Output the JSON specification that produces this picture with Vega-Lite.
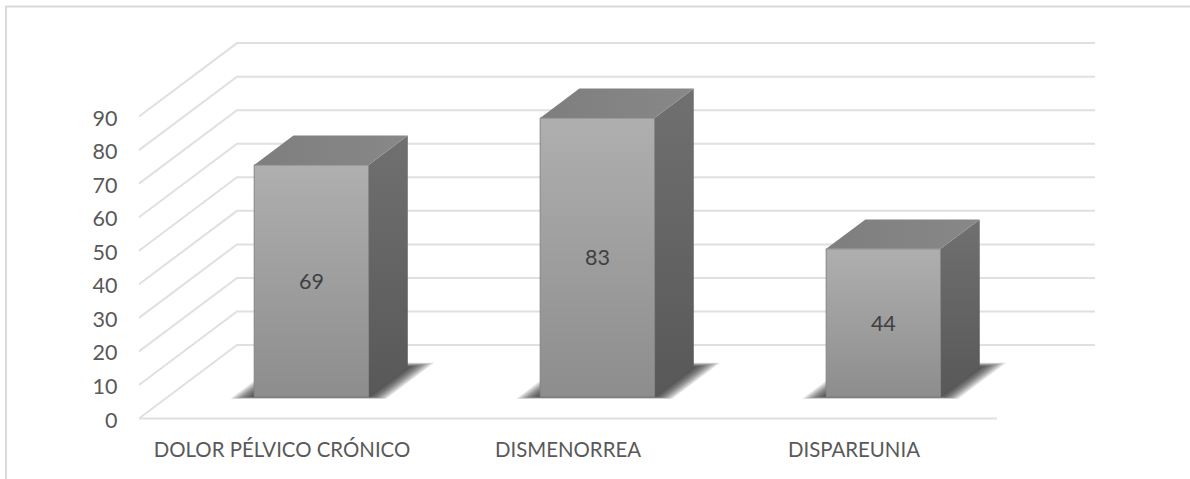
{
  "$schema": "https://vega.github.io/schema/vega-lite/v6.json",
  "width": 1190,
  "height": 479,
  "padding": 0,
  "autosize": "none",
  "background": "white",
  "config": {"view": {"stroke": null}},
  "params": [
    {"name": "sx", "value": 0.3427},
    {"name": "sy", "value": 21.9},
    {"name": "t0", "value": 0.3},
    {"name": "t1", "value": 0.7}
  ],
  "datasets": {
    "levels": [
      {"level": 0}, {"level": 10}, {"level": 20}, {"level": 30}, {"level": 40},
      {"level": 50}, {"level": 60}, {"level": 70}, {"level": 80}, {"level": 90}
    ],
    "frame": [
      {"corner": 0, "X": -0.465, "Y": -18.03},
      {"corner": 1, "X": -0.465, "Y": 122.8},
      {"corner": 2, "X": 3.675, "Y": 122.8}
    ],
    "floor": [
      {"X": 0, "Y": 0},
      {"X": 3, "Y": 0}
    ]
  },
  "data": {
    "values": [
      {"sintoma": "DOLOR PÉLVICO CRÓNICO", "casos": 69},
      {"sintoma": "DISMENORREA", "casos": 83},
      {"sintoma": "DISPAREUNIA", "casos": 44}
    ]
  },
  "transform": [
    {"window": [{"op": "row_number", "as": "n"}]},
    {"calculate": "datum.n - 1", "as": "slot"},
    {"calculate": "datum.slot + 0.3", "as": "uL"},
    {"calculate": "datum.slot + 0.7", "as": "uR"}
  ],
  "encoding": {
    "x": {
      "field": "X",
      "type": "quantitative",
      "scale": {"domain": [-0.486, 3.675], "range": [0, 1190], "nice": false, "zero": false},
      "axis": null
    },
    "y": {
      "field": "Y",
      "type": "quantitative",
      "scale": {"domain": [-18.03, 124.74], "range": [479, 0], "nice": false, "zero": false},
      "axis": {
        "values": [0, 10, 20, 30, 40, 50, 60, 70, 80, 90],
        "title": null,
        "domain": false,
        "ticks": false,
        "grid": false,
        "offset": -117,
        "labelPadding": 0,
        "labelOffset": 2.5,
        "labelFont": "Lato",
        "labelFontSize": 21.5,
        "labelColor": "#595959"
      }
    }
  },
  "layer": [
    {
      "description": "Outer frame: left and top edges",
      "data": {"name": "frame"},
      "mark": {"type": "line", "color": "#dadada", "strokeWidth": 2},
      "encoding": {"order": {"field": "corner"}}
    },
    {
      "description": "Front edge of the floor",
      "data": {"name": "floor"},
      "mark": {"type": "line", "color": "#e0e0e0", "strokeWidth": 2}
    },
    {
      "description": "Gridlines: along the side wall, then across the back wall",
      "data": {"name": "levels"},
      "transform": [
        {"calculate": "[0, 1, 2]", "as": "stop"},
        {"flatten": ["stop"]},
        {"calculate": "datum.stop == 0 ? 0 : (datum.stop == 1 ? sx : 3 + sx)", "as": "X"},
        {"calculate": "datum.level + (datum.stop == 0 ? 0 : sy)", "as": "Y"}
      ],
      "mark": {"type": "line", "color": "#e0e0e0", "strokeWidth": 2},
      "encoding": {"detail": {"field": "level"}}
    },
    {
      "description": "Soft floor shadow built from nested translucent footprints",
      "transform": [
        {"calculate": "[0.072, 0.064, 0.056, 0.049, 0.042, 0.035, 0.028, 0.021, 0.014, 0.007]", "as": "e"},
        {"flatten": ["e"]},
        {"calculate": "[0, 1, 2, 3]", "as": "stop"},
        {"flatten": ["stop"]},
        {"calculate": "t0 - 0.45 * datum.e", "as": "ta"},
        {"calculate": "t1 + 0.8 * datum.e", "as": "tb"},
        {"calculate": "(datum.stop < 2 ? datum.uL - datum.e : datum.uR + datum.e) + sx * (datum.stop % 2 == 0 ? datum.ta : datum.tb)", "as": "X"},
        {"calculate": "sy * (datum.stop == 0 ? datum.ta : datum.tb)", "as": "Y"},
        {"calculate": "sy * (datum.stop == 3 ? datum.tb : datum.ta)", "as": "Y2"},
        {"calculate": "datum.sintoma + '-' + datum.e", "as": "capa"}
      ],
      "mark": {"type": "area", "orient": "vertical", "color": "#2a2a2a", "opacity": 0.14},
      "encoding": {
        "y2": {"field": "Y2"},
        "detail": {"field": "capa"}
      }
    },
    {
      "description": "Right side face of each bar",
      "transform": [
        {"calculate": "[0, 1]", "as": "stop"},
        {"flatten": ["stop"]},
        {"calculate": "t0 + datum.stop * (t1 - t0)", "as": "t"},
        {"calculate": "datum.uR + sx * datum.t", "as": "X"},
        {"calculate": "datum.casos + sy * datum.t", "as": "Y"},
        {"calculate": "sy * datum.t", "as": "Y2"}
      ],
      "mark": {
        "type": "area",
        "orient": "vertical",
        "color": {
          "gradient": "linear", "x1": 0, "y1": 0, "x2": 0, "y2": 1,
          "stops": [{"offset": 0, "color": "#707070"}, {"offset": 1, "color": "#585858"}]
        }
      },
      "encoding": {
        "y2": {"field": "Y2"},
        "detail": {"field": "sintoma"}
      }
    },
    {
      "description": "Top face of each bar",
      "transform": [
        {"calculate": "[0, 1, 2, 3]", "as": "stop"},
        {"flatten": ["stop"]},
        {"calculate": "(datum.stop < 2 ? datum.uL : datum.uR) + sx * (datum.stop % 2 == 0 ? t0 : t1)", "as": "X"},
        {"calculate": "datum.casos + sy * (datum.stop == 0 ? t0 : t1)", "as": "Y"},
        {"calculate": "datum.casos + sy * (datum.stop == 3 ? t1 : t0)", "as": "Y2"}
      ],
      "mark": {
        "type": "area",
        "orient": "vertical",
        "color": {
          "gradient": "linear", "x1": 0, "y1": 0, "x2": 1, "y2": 0,
          "stops": [{"offset": 0, "color": "#7e7e7e"}, {"offset": 1, "color": "#888888"}]
        }
      },
      "encoding": {
        "y2": {"field": "Y2"},
        "detail": {"field": "sintoma"}
      }
    },
    {
      "description": "Front face of each bar",
      "transform": [
        {"calculate": "datum.uL + sx * t0", "as": "X"},
        {"calculate": "datum.uR + sx * t0", "as": "X2"},
        {"calculate": "datum.casos + sy * t0", "as": "Y"},
        {"calculate": "sy * t0", "as": "Y2"}
      ],
      "mark": {
        "type": "rect",
        "stroke": "#858585",
        "strokeWidth": 1,
        "fill": {
          "gradient": "linear", "x1": 0, "y1": 0, "x2": 0, "y2": 1,
          "stops": [{"offset": 0, "color": "#afafaf"}, {"offset": 1, "color": "#8d8d8d"}]
        }
      },
      "encoding": {
        "x2": {"field": "X2"},
        "y2": {"field": "Y2"}
      }
    },
    {
      "description": "Value printed on the front face",
      "transform": [
        {"calculate": "datum.slot + 0.5 + sx * t0", "as": "X"},
        {"calculate": "datum.casos / 2 + sy * t0", "as": "Y"}
      ],
      "mark": {"type": "text", "font": "Lato", "fontSize": 21.5, "dy": 2, "color": "#404040", "align": "center", "baseline": "middle"},
      "encoding": {"text": {"field": "casos", "type": "quantitative"}}
    },
    {
      "description": "Category names under the floor",
      "transform": [
        {"calculate": "datum.slot + 0.5", "as": "X"},
        {"calculate": "-9.2", "as": "Y"}
      ],
      "mark": {"type": "text", "font": "Lato", "fontSize": 20.4, "dy": 2, "color": "#595959", "align": "center", "baseline": "middle"},
      "encoding": {"text": {"field": "sintoma", "type": "nominal"}}
    }
  ]
}
